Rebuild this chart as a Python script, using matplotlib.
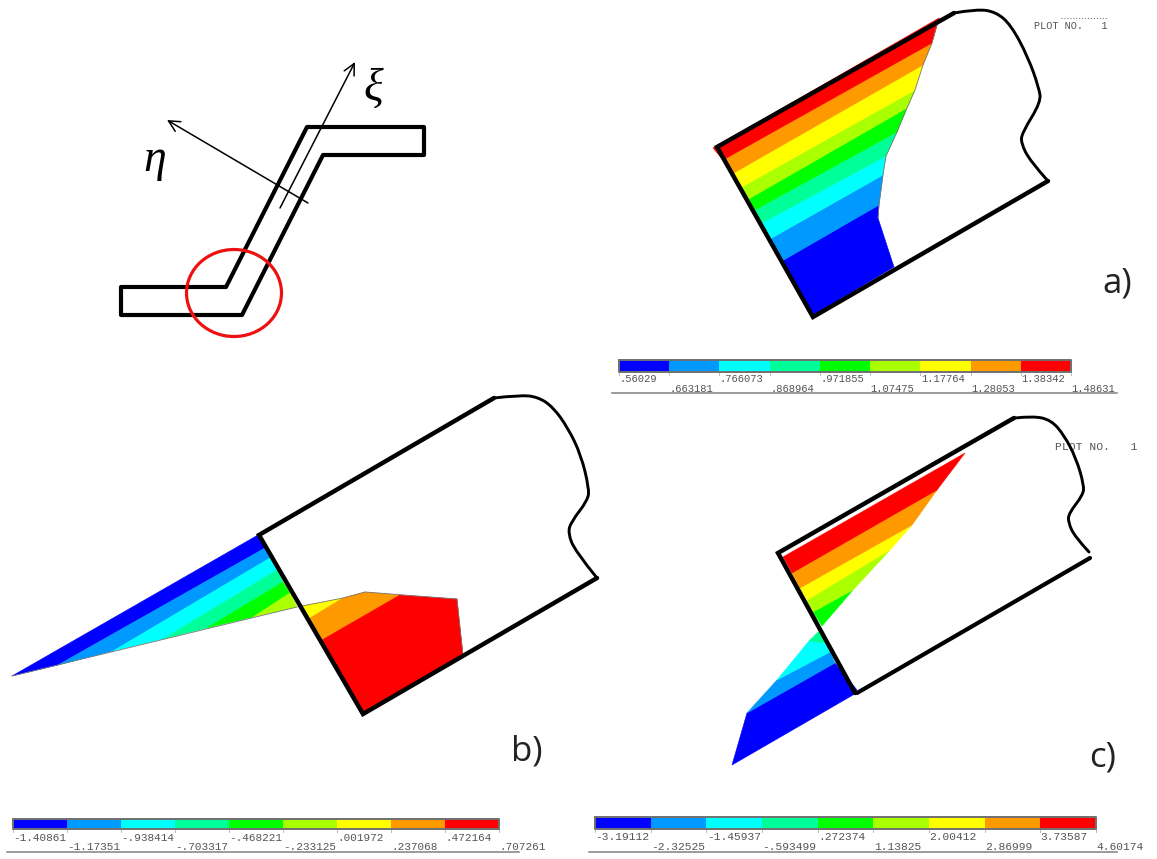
import matplotlib
matplotlib.use('Agg')
import matplotlib.pyplot as plt
from matplotlib.patches import Polygon, Ellipse, PathPatch
from matplotlib.path import Path

fringe_colors = ['#0000ff', '#0099ff', '#00ffff', '#00ff99', '#00ff00',
                 '#aaff00', '#ffff00', '#ff9900', '#ff0000']

# schematic (pixel coordinates of the picture)
section = [(121, 287), (226, 287), (307, 127), (424, 127), (424, 155), (323, 155), (242, 315), (121, 315)]

# panel a
a_straight = [(954, 13), (717, 147), (813, 317), (1048, 181)]
a_curve = [(954, 13), (977, 9), (996, 12), (1011, 25), (1028, 57), (1039, 88), (1041, 102), (1022, 133),
           (1021, 143), (1030, 161), (1048, 181)]
a_left = [(813, 315), (782, 261), (770, 239), (762, 223), (753, 211), (747, 200), (740, 188), (732, 174),
          (723, 160), (713, 148)]
a_right = [(894, 267), (879, 205), (883, 175), (886, 156), (897, 132), (907, 108), (915, 90), (923, 65),
           (932, 43), (939, 18)]
a_blue_corner = (878, 218)
a_labels = ['.56029', '.663181', '.766073', '.868964', '.971855', '1.07475', '1.17764', '1.28053', '1.38342', '1.48631']

# panel b
b_straight = [(494, 398), (259, 535), (363, 714), (597, 578)]
b_curve = [(494, 398), (520, 395), (538, 397), (553, 407), (568, 428), (581, 455), (589, 488), (588, 500),
           (571, 522), (568, 533), (575, 551), (597, 578)]
b_polys = [[(258, 535), (265, 548), (58, 665), (12, 676)],
           [(265, 548), (270, 558), (113, 651), (58, 665)],
           [(270, 558), (277, 570), (163, 639), (113, 651)],
           [(277, 570), (283, 582), (207, 628), (163, 639)],
           [(283, 582), (290, 593), (253, 617), (207, 628)],
           [(290, 593), (297, 607), (253, 617)],
           [(302, 606), (343, 598), (310, 618)],
           [(310, 618), (343, 598), (365, 592), (400, 595), (322, 640)],
           [(322, 640), (400, 595), (457, 599), (463, 655), (362, 713)]]
b_edge_low = [(12, 676), (297, 607)]
b_edge_top = [(302, 606), (343, 598), (365, 592), (457, 599), (463, 655)]
b_labels = ['-1.40861', '-1.17351', '-.938414', '-.703317', '-.468221', '-.233125', '.001972', '.237068', '.472164', '.707261']

# panel c
c_straight = [(855, 693), (778, 553), (1014, 418)]
c_curve = [(1015, 418), (1033, 416), (1051, 420), (1064, 435), (1076, 458), (1084, 485), (1083, 495), (1069, 513),
           (1068, 522), (1075, 537), (1089, 552)]
c_lower = [(857, 693), (1090, 558)]
c_polys = [[(747, 713), (835, 663), (857, 690), (853, 695), (732, 765)],
           [(777, 680), (830, 652), (835, 663), (747, 713)],
           [(809, 641), (826, 643), (830, 652), (777, 680)],
           [(818, 632), (823, 632), (826, 643), (809, 641)],
           [(813, 612), (853, 590), (822, 626)],
           [(807, 600), (890, 550), (853, 590), (813, 612)],
           [(800, 588), (912, 525), (890, 550), (807, 600)],
           [(792, 573), (937, 490), (912, 525), (800, 588)],
           [(783, 557), (965, 453), (937, 490), (792, 573)]]
c_labels = ['-3.19112', '-2.32525', '-1.45937', '-.593499', '.272374', '1.13825', '2.00412', '2.86999', '3.73587', '4.60174']

fig = plt.figure(figsize=(11.57, 8.59), dpi=100)
ax = fig.add_axes([0, 0, 1, 1])
ax.set_xlim(0, 1157)
ax.set_ylim(859, 0)
ax.axis('off')


def outline(points, lw=3.2):
    xs = [p[0] for p in points]
    ys = [p[1] for p in points]
    ax.plot(xs, ys, color='black', lw=lw, solid_joinstyle='miter', solid_capstyle='round', zorder=5)


def curve(points, lw=2.1):
    # points are control points of a quadratic spline, the library does the smoothing
    verts = [points[0]]
    codes = [Path.MOVETO]
    for i in range(1, len(points) - 2):
        mid = ((points[i][0] + points[i + 1][0]) / 2, (points[i][1] + points[i + 1][1]) / 2)
        verts += [points[i], mid]
        codes += [Path.CURVE3, Path.CURVE3]
    verts += [points[-2], points[-1]]
    codes += [Path.CURVE3, Path.CURVE3]
    ax.add_patch(PathPatch(Path(verts, codes), fill=False, edgecolor='black', lw=lw, capstyle='round', zorder=5))


def edge(points):
    ax.plot([p[0] for p in points], [p[1] for p in points], color='#777777', lw=0.6, zorder=3)


def fill_polys(polys):
    for i, poly in enumerate(polys):
        col = fringe_colors[i]
        ax.add_patch(Polygon(poly, closed=True, facecolor=col, edgecolor=col, lw=0.4, zorder=2))


def legend_bar(x0, x1, ytop, ybot, yline, xl0, xl1, labels, fs, y_up, y_low):
    # ANSYS style contour key, labels staggered on two rows
    step = (x1 - x0) / 9
    for i, col in enumerate(fringe_colors):
        ax.bar(x0 + i * step, ybot - ytop, bottom=ytop, width=step, color=col, align='edge', zorder=2)
        ax.plot([x0 + i * step] * 2, [ybot, ybot + 3], color='#bbbbbb', lw=0.7)
    ax.plot([x1, x1], [ybot, ybot + 3], color='#bbbbbb', lw=0.7)
    ax.plot([x0, x1, x1, x0, x0], [ytop, ytop, ybot, ybot, ytop], color='#707070', lw=1.4, zorder=3)
    ax.plot([xl0, xl1], [yline, yline], color='#808080', lw=1.1)
    for i, lab in enumerate(labels):
        y = y_up if i % 2 == 0 else y_low
        ax.text(x0 + i * step + 0.5, y, lab, family='Liberation Mono', fontsize=fs, color='#555555',
                ha='left', va='center')


# schematic
ax.add_patch(Polygon(section, closed=True, fill=False, edgecolor='black', lw=3.0, joinstyle='round', zorder=3))
ax.add_patch(Ellipse((234, 293), 95, 87, fill=False, edgecolor='#ee1111', lw=2.3, zorder=4))
ax.annotate('', xy=(355, 62), xytext=(280, 208),
            arrowprops=dict(arrowstyle='->', lw=1.1, color='black', mutation_scale=20, shrinkA=0, shrinkB=0))
ax.annotate('', xy=(167, 120), xytext=(308, 203),
            arrowprops=dict(arrowstyle='->', lw=1.1, color='black', mutation_scale=20, shrinkA=0, shrinkB=0))
ax.text(373, 90, '\u03be', family='Liberation Serif', style='italic', fontsize=33, ha='center', va='center')
ax.text(155, 160, '\u03b7', family='Liberation Serif', style='italic', fontsize=33, ha='center', va='center')

# panel a fringes
a_polys = [[a_left[0], a_left[1], a_right[1], a_blue_corner, a_right[0]]]
for i in range(1, 9):
    a_polys.append([a_left[i], a_left[i + 1], a_right[i + 1], a_right[i]])
fill_polys(a_polys)
edge([a_blue_corner] + a_right[1:])
outline(a_straight)
curve(a_curve)

fill_polys(b_polys)
edge(b_edge_low)
edge(b_edge_top)
outline(b_straight)
curve(b_curve)

fill_polys(c_polys)
outline(c_straight)
curve(c_curve)
outline(c_lower, lw=3.0)

legend_bar(619, 1071, 360, 372, 393, 612, 1117, a_labels, 7.6, 379, 388.5)
legend_bar(13, 499, 819, 829, 852, 7, 519, b_labels, 7.9, 838, 847)
legend_bar(595, 1096, 817, 829, 852, 589, 1117, c_labels, 8.1, 837, 847)

ax.text(1034, 26, 'PLOT NO.   1', family='Liberation Mono', fontsize=7.4, color='#555555', ha='left', va='center')
ax.plot([1061, 1108], [18, 18], color='#777777', lw=0.8, ls=':')
ax.text(1055, 447, 'PLOT NO.   1', family='Liberation Mono', fontsize=8.2, color='#555555', ha='left', va='center')

for x, y, s in [(1117, 283, 'a)'), (527, 752, 'b)'), (1103, 757, 'c)')]:
    ax.text(x, y, s, family='Open Sans', fontsize=25, color='#222222', ha='center', va='center')

fig.savefig('out.png', dpi=100)
